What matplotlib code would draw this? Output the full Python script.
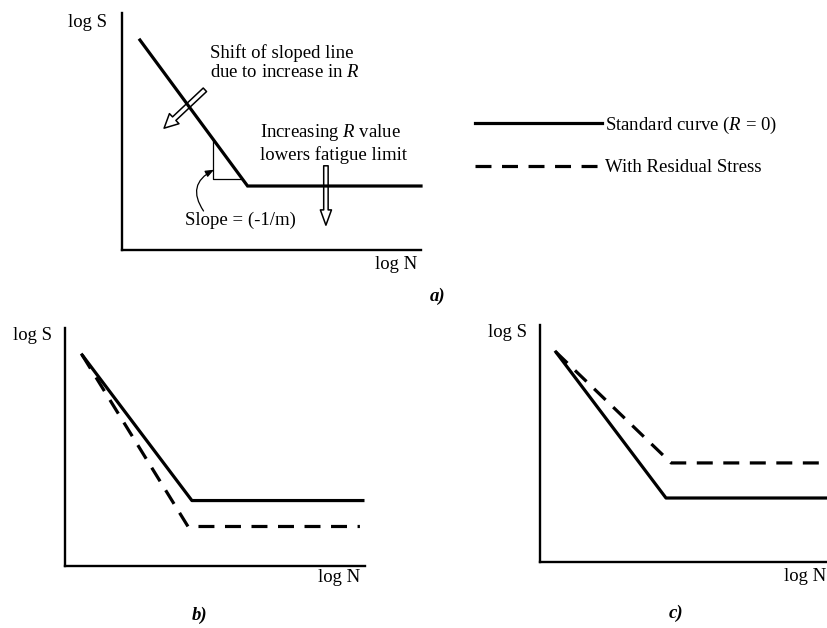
import matplotlib
matplotlib.use('Agg')
import matplotlib.pyplot as plt
from matplotlib.patches import FancyArrowPatch
from matplotlib.lines import Line2D

plt.rcParams['font.family'] = ['Liberation Serif', 'DejaVu Serif']
plt.rcParams['mathtext.fontset'] = 'custom'
plt.rcParams['mathtext.it'] = 'Liberation Serif:italic'
plt.rcParams['mathtext.rm'] = 'Liberation Serif'

# ---------------- data (arbitrary log units, 0-100 on each axis) ----------------
a_std_x = [6, 42, 100]
a_std_y = [88.6, 27, 27]

b_std_x = [5.7, 42.3, 99.3]
b_std_y = [88.7, 27.5, 27.5]
b_res_x = [5.7, 41.0, 98.3]
b_res_y = [88.7, 16.6, 16.6]

c_std_x = [5.3, 42.0, 100]
c_std_y = [88.6, 27.0, 27.0]
c_res_x = [5.3, 43.7, 100]
c_res_y = [88.6, 41.8, 41.8]

legend_labels = ['Standard curve ($R$ = 0)', 'With Residual Stress']
panel_labels = ['a)', 'b)', 'c)']

# ---------------- figure ----------------
W, H = 828, 628
fig = plt.figure(figsize=(W / 100, H / 100), dpi=100)

FS = 13.5
LW = 2.3
DASH = (0, (5, 3.3))


def add_panel(l, t, r, b):
    ax = fig.add_axes([l / W, 1 - b / H, (r - l) / W, (b - t) / H])
    ax.set_xlim(0, 100)
    ax.set_ylim(0, 100)
    for s in ('top', 'right'):
        ax.spines[s].set_visible(False)
    for s in ('left', 'bottom'):
        ax.spines[s].set_linewidth(1.7)
    ax.set_xticks([])
    ax.set_yticks([])
    ax.patch.set_alpha(0)
    return ax


# ---- panel a ----
axa = add_panel(122, 13, 421, 250)
axa.plot(a_std_x, a_std_y, color='black', lw=LW, solid_joinstyle='miter', clip_on=False)
axa.text(-5.0, 96.2, 'log S', ha='right', va='center', fontsize=FS)
axa.text(98.7, -6.3, 'log N', ha='right', va='center', fontsize=FS)
axa.text(105.4, -19.4, panel_labels[0], ha='center', va='center', fontsize=FS,
         fontstyle='italic', fontweight='bold')
# slope triangle
axa.plot([30.4, 30.4, 40.3], [46.9, 30.0, 30.0], color='black', lw=0.9)
axa.text(39.5, 12.7, 'Slope = (-1/m)', ha='center', va='center', fontsize=FS)
axa.annotate('', xy=(31.6, 34.4), xytext=(27.8, 15.5),
             arrowprops=dict(arrowstyle='-|>,head_length=0.5,head_width=0.2', color='black',
                             lw=0.9, connectionstyle='arc3,rad=-0.6'))
# shift arrow
axa.text(29.4, 79.1, 'Shift of sloped line\ndue to increase in $R$', ha='left', va='center',
         fontsize=FS, linespacing=1.2)
axa.add_patch(FancyArrowPatch((28.4, 68.4), (13.4, 50.6),
                              arrowstyle='simple,head_length=10,head_width=10,tail_width=3.5',
                              mutation_scale=1, fc='white', ec='black', lw=1.1))
# fatigue limit arrow
axa.text(46.2, 45.1, 'Increasing $R$ value\nlowers fatigue limit', ha='left', va='center',
         fontsize=FS, linespacing=1.2)
axa.add_patch(FancyArrowPatch((68.2, 36.7), (68.2, 9.3),
                              arrowstyle='simple,head_length=11,head_width=8,tail_width=3.2',
                              mutation_scale=1, fc='white', ec='black', lw=1.1))

# ---- legend ----
handles = [Line2D([], [], color='black', lw=LW),
           Line2D([], [], color='black', lw=LW, linestyle=DASH)]
fig.legend(handles, legend_labels, loc='center left',
           bbox_to_anchor=(475 / W, 1 - 145.5 / H), frameon=False, fontsize=FS,
           handlelength=6.75, handletextpad=0.2, labelspacing=1.25, borderpad=0,
           borderaxespad=0)

# ---- panel b ----
axb = add_panel(65, 328, 365, 566)
axb.plot(b_std_x, b_std_y, color='black', lw=LW, clip_on=False)
axb.plot(b_res_x, b_res_y, color='black', lw=LW, linestyle=DASH, clip_on=False)
axb.text(-4.3, 97, 'log S', ha='right', va='center', fontsize=FS)
axb.text(98.3, -5.0, 'log N', ha='right', va='center', fontsize=FS)
axb.text(45, -20.6, panel_labels[1], ha='center', va='center', fontsize=FS,
         fontstyle='italic', fontweight='bold')

# ---- panel c ----
axc = add_panel(540, 325, 840, 562)
axc.plot(c_std_x, c_std_y, color='black', lw=LW, clip_on=False)
axc.plot(c_res_x, c_res_y, color='black', lw=LW, linestyle=DASH, clip_on=False)
axc.text(-4.3, 97, 'log S', ha='right', va='center', fontsize=FS)
axc.text(95.3, -6.3, 'log N', ha='right', va='center', fontsize=FS)
axc.text(45.3, -21.5, panel_labels[2], ha='center', va='center', fontsize=FS,
         fontstyle='italic', fontweight='bold')

fig.savefig('out.png', dpi=100, facecolor='white')
